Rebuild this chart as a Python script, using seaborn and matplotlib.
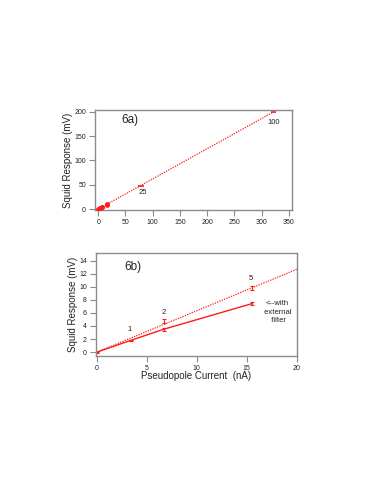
import matplotlib
matplotlib.use("Agg")
import matplotlib.pyplot as plt
import seaborn as sns
import pandas as pd

# ---- data ----
# panel 6a
a_x = [0, 3.4, 3.4, 6.7, 6.7, 15.5, 15.5]
a_y = [0, 1.8, 2.2, 3.5, 4.7, 7.4, 9.8]
a_big_x = [78.5, 322]
a_big_y = [48, 200]
a_big_xerr = [6, 5]
a_fit_x = [0, 322]
a_fit_y = [0, 200]
a_labels = ["25", "100"]
a_label_x = [81, 323]
a_label_y = [35, 178]
a_xticks = [0, 50, 100, 150, 200, 250, 300, 350]
a_yticks = [0, 50, 100, 150, 200]

# panel 6b
b_x = [0, 3.4, 6.7, 15.5]
b_filter = [0, 1.8, 3.5, 7.4]
b_filter_err = [0.08, 0.12, 0.2, 0.25]
b_nofilt_x = [6.7, 15.5]
b_nofilt = [4.75, 9.8]
b_nofilt_err = [0.3, 0.3]
b_fit_x = [0, 20]
b_fit_y = [0, 12.65]
b_labels = ["1", "2", "5"]
b_label_x = [3.3, 6.7, 15.45]
b_label_y = [3.5, 6.0, 11.2]
b_xticks = [0, 5, 10, 15, 20]
b_yticks = [0, 2, 4, 6, 8, 10, 12, 14]

sns.set_theme(style="white")
plt.rcParams['font.family'] = ['Liberation Sans', 'DejaVu Sans']

RED = "#ff1a1a"
GRAY = "#8a8a8a"
TXT = "#222222"

fig = plt.figure(figsize=(3.79, 4.91), dpi=100)
ax1 = fig.add_axes([0.2507, 0.5723, 0.5198, 0.2037])
ax2 = fig.add_axes([0.2533, 0.2749, 0.5295, 0.2092])

def style(ax):
    for s in ax.spines.values():
        s.set_color(GRAY)
        s.set_linewidth(1.0)
        s.set_visible(True)
    ax.tick_params(direction="out", length=4, width=0.8, color=GRAY,
                   labelsize=5, labelcolor=TXT, pad=2.5,
                   left=True, bottom=True, top=False, right=False)

# ---- panel 6a ----
dfa_fit = pd.DataFrame({"x": a_fit_x, "y": a_fit_y})
sns.lineplot(data=dfa_fit, x="x", y="y", ax=ax1, color=RED, lw=0.9,
             linestyle=(0, (1, 1)))
dfa = pd.DataFrame({"x": a_x, "y": a_y})
sns.scatterplot(data=dfa, x="x", y="y", ax=ax1, color=RED, s=9,
                edgecolor=RED, linewidth=0.4, zorder=3)
ax1.errorbar(a_big_x, a_big_y, xerr=a_big_xerr, fmt="none", ecolor=RED,
             elinewidth=1.2, capsize=0)
for t, x, y in zip(a_labels, a_label_x, a_label_y):
    ax1.text(x, y, t, fontsize=5.5, color=TXT, ha="center", va="center")
ax1.text(58, 184, "6a)", fontsize=8.5, color=TXT, ha="center", va="center")
ax1.set_xlim(-6, 356)
ax1.set_ylim(-2, 204)
ax1.set_xticks(a_xticks)
ax1.set_yticks(a_yticks)
ax1.set_xlabel("")
ax1.set_ylabel("Squid Response (mV)", fontsize=7, color=TXT)
ax1.yaxis.set_label_coords(-0.112, 0.5)
style(ax1)

# ---- panel 6b ----
dfb_fit = pd.DataFrame({"x": b_fit_x, "y": b_fit_y})
sns.lineplot(data=dfb_fit, x="x", y="y", ax=ax2, color=RED, lw=0.9,
             linestyle=(0, (1, 1)))
dfb = pd.DataFrame({"x": b_x, "y": b_filter})
sns.lineplot(data=dfb, x="x", y="y", ax=ax2, color=RED, lw=1.0)
ax2.errorbar(b_x, b_filter, yerr=b_filter_err, fmt="none", ecolor=RED,
             elinewidth=0.8, capsize=1.5, capthick=0.8)
ax2.errorbar(b_nofilt_x, b_nofilt, yerr=b_nofilt_err, fmt="none", ecolor=RED,
             elinewidth=0.8, capsize=1.5, capthick=0.8)
for t, x, y in zip(b_labels, b_label_x, b_label_y):
    ax2.text(x, y, t, fontsize=5.5, color=TXT, ha="center", va="center")
ax2.text(18.0, 6.1, "<--with\n external\n  filter", fontsize=5.5, color=TXT,
         ha="center", va="center", multialignment="center", linespacing=1.25)
ax2.text(3.6, 13.0, "6b)", fontsize=8.5, color=TXT, ha="center", va="center")
ax2.set_xlim(-0.1, 20)
ax2.set_ylim(-0.6, 15.1)
ax2.set_xticks(b_xticks)
ax2.set_yticks(b_yticks)
ax2.set_xlabel("Pseudopole Current  (nA)", fontsize=7, color=TXT, labelpad=-1)
ax2.set_ylabel("Squid Response (mV)", fontsize=7, color=TXT)
ax2.yaxis.set_label_coords(-0.09, 0.5)
style(ax2)

fig.savefig("out.png", dpi=100, facecolor="white")
